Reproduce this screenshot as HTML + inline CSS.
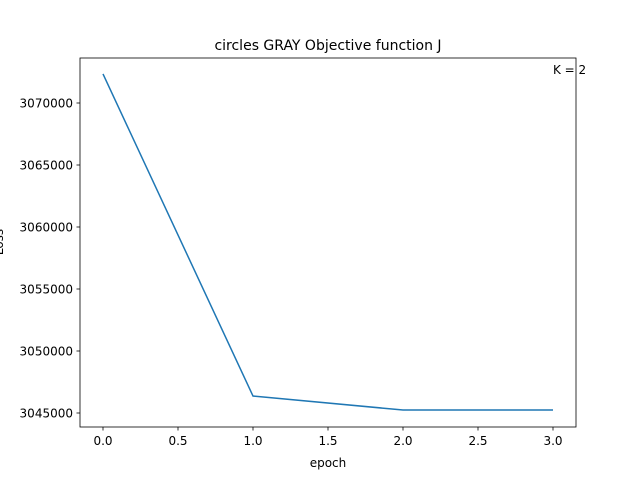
<!DOCTYPE html>
<html><head><meta charset="utf-8"><style>body{margin:0;background:#fff}svg{display:block;font-family:"DejaVu Sans","Liberation Sans",sans-serif}</style></head>
<body>
<svg id="chart" width="640" height="480">
<rect width="640" height="480" fill="#fff"/>
<g id="ticks"></g>
<polyline id="line" fill="none" stroke="#1f77b4" stroke-width="1.5"/>
<rect x="80" y="58" width="496" height="369" fill="none" stroke="#000" stroke-width="0.8"/>
<text x="328" y="50" font-size="14" text-anchor="middle">circles GRAY Objective function J</text>
<text x="553" y="74" font-size="12">K = 2</text>
<text x="328" y="467" font-size="12" text-anchor="middle">epoch</text>
<text transform="translate(3,242) rotate(-90)" font-size="12" text-anchor="middle">Loss</text>
</svg>
<script>
const epochs=[0,1,2,3];
const loss=[3072340,3046370,3045240,3045240];
const xTicks=[0,0.5,1,1.5,2,2.5,3];
const xTickLabels=["0.0","0.5","1.0","1.5","2.0","2.5","3.0"];
const yTicks=[3045000,3050000,3055000,3060000,3065000,3070000];
const X=v=>103+v*150;
const Y=v=>413-(v-3045000)*0.0124;
const ns="http://www.w3.org/2000/svg";
const g=document.getElementById('ticks');
function mk(t,a){const e=document.createElementNS(ns,t);for(const k in a)e.setAttribute(k,a[k]);g.appendChild(e);return e;}
xTicks.forEach((v,i)=>{
 const l=mk('line',{x1:X(v),x2:X(v),y1:427,y2:430.5,stroke:'#000','stroke-width':0.8});
 
 
 const t=mk('text',{x:X(v),y:445,'font-size':12,'text-anchor':'middle'});t.textContent=xTickLabels[i];
 
 
});
yTicks.forEach(v=>{
 const l=mk('line',{x1:76.5,x2:80,y1:Y(v),y2:Y(v),stroke:'#000','stroke-width':0.8});
 
 
 const t=mk('text',{x:73,y:Y(v)+4.5,'font-size':12,'text-anchor':'end'});t.textContent=v;
 
 
});
document.getElementById('line').setAttribute('points',epochs.map((e,i)=>X(e)+','+Y(loss[i])).join(' '));
</script>
</body></html>
